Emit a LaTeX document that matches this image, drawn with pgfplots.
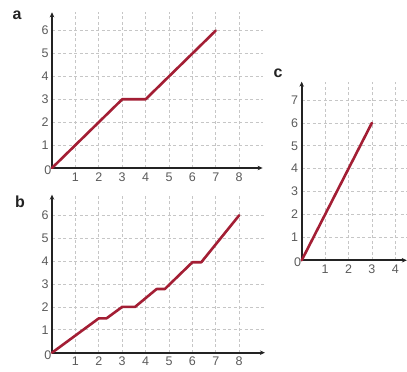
\documentclass[border=0pt]{standalone}
\usepackage{fontspec}
\setmainfont{Liberation Sans}
\usepackage{pgfplots}
\pgfplotsset{compat=1.18}
\usetikzlibrary{arrows.meta}

\definecolor{curve}{RGB}{163,30,52}
\definecolor{ticktext}{RGB}{90,90,90}
\definecolor{axisdark}{RGB}{35,35,35}

\pgfplotsset{
  panel/.style={
    scale only axis, x=23.4pt, y=22.9pt,
    xmin=0, ymin=0,
    axis lines=left,
    axis line style={line width=1.7pt, color=axisdark, -{Stealth[length=5pt,width=4.5pt]}},
    grid=major,
    major grid style={dash pattern=on 3pt off 2.5pt, color=gray!45, line width=0.6pt},
    major tick length=0pt,
    tick style={draw=none},
    tick label style={font=\fontsize{12.5}{12.5}\selectfont, text=ticktext},
    xticklabel style={yshift=-1pt},
    /pgf/number format/assume math mode=true,
    clip=false, anchor=south west,
  },
  trace/.style={color=curve, line width=2.6pt, line join=round, line cap=round, mark=none},
}

\newcommand{\originlabel}{\node[anchor=east, inner sep=0.5pt, yshift=-2pt, font=\fontsize{12.5}{12.5}\selectfont, text=ticktext] at (axis cs:0,0) {0};}

\begin{document}
\begin{tikzpicture}
\useasboundingbox (0,0) rectangle (407pt,372pt);

% panel a
\begin{axis}[panel, at={(52pt,204pt)}, xmax=9.0, ymax=6.8,
  xtick={1,...,8}, ytick={1,...,6}]
  \addplot[trace] coordinates {(0,0) (3,3) (4,3) (7,6)};
  \originlabel
\end{axis}

% panel b
\begin{axis}[panel, at={(52pt,19.3pt)}, xmax=9.1, ymax=6.9,
  xtick={1,...,8}, ytick={1,...,6}]
  \addplot[trace] coordinates {(0,0) (2,1.5) (2.33,1.5) (3,2) (3.55,2) (4.47,2.78) (4.82,2.78) (6,3.95) (6.38,3.95) (8,6)};
  \originlabel
\end{axis}

% panel c
\begin{axis}[panel, at={(301.7pt,111.7pt)}, xmax=4.49, ymax=7.8,
  xtick={1,...,4}, ytick={1,...,7}]
  \addplot[trace] coordinates {(0,0) (3,6)};
  \originlabel
\end{axis}

\node[font=\bfseries\fontsize{16}{16}\selectfont, text=axisdark] at (17pt,357pt) {a};
\node[font=\bfseries\fontsize{16}{16}\selectfont, text=axisdark] at (20pt,170pt) {b};
\node[font=\bfseries\fontsize{16}{16}\selectfont, text=axisdark] at (278pt,299pt) {c};
\end{tikzpicture}
\end{document}
